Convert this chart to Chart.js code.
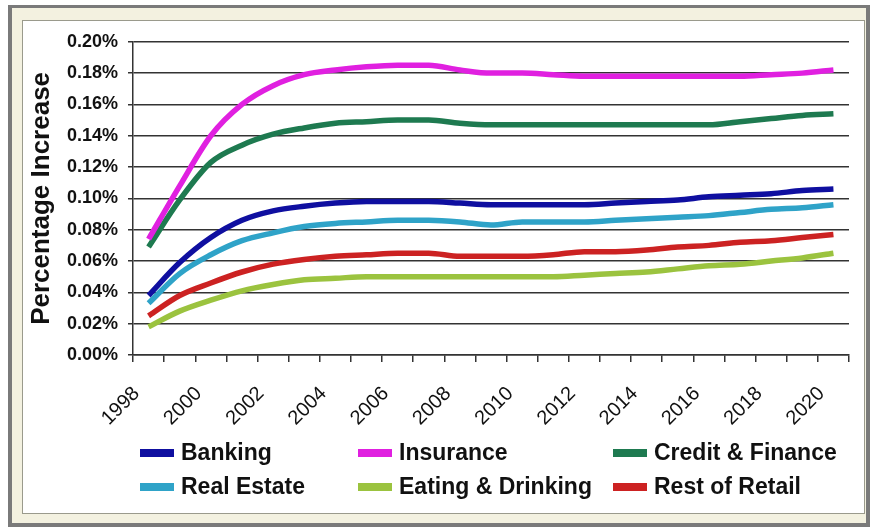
<!DOCTYPE html>
<html>
<head>
<meta charset="utf-8">
<script src="https://cdn.jsdelivr.net/npm/chart.js@4"></script>
<style>
  html, body { margin: 0; padding: 0; background: #ffffff; width: 870px; height: 527px; overflow: hidden; }
  #frame { position: absolute; left: 8px; top: 5px; width: 854px; height: 515px; border: 4px solid #7a7a7a; border-top-width: 3px; background: #f3f1e0; }
  #panel { position: absolute; left: 22px; top: 20px; width: 841px; height: 492px; border: 1px solid #9a9a8c; background: #ffffff; }
  canvas { display: block; }
</style>
</head>
<body>
<div id="frame"></div>
<div id="panel"><canvas id="c" width="841" height="492"></canvas></div>
<script>
const categories = ['1998','1999','2000','2001','2002','2003','2004','2005','2006','2007','2008','2009','2010','2011','2012','2013','2014','2015','2016','2017','2018','2019','2020'];
const xTickLabels = ['1998','','2000','','2002','','2004','','2006','','2008','','2010','','2012','','2014','','2016','','2018','','2020'];
const yTickLabels = ['0.00%','0.02%','0.04%','0.06%','0.08%','0.10%','0.12%','0.14%','0.16%','0.18%','0.20%'];
const seriesNames = ['Banking','Insurance','Credit & Finance','Real Estate','Eating & Drinking','Rest of Retail'];

const banking      = [0.038,0.059,0.075,0.086,0.092,0.095,0.097,0.098,0.098,0.098,0.097,0.096,0.096,0.096,0.096,0.097,0.098,0.099,0.101,0.102,0.103,0.105,0.106];
const insurance    = [0.074,0.108,0.140,0.160,0.172,0.179,0.182,0.184,0.185,0.185,0.182,0.180,0.180,0.179,0.178,0.178,0.178,0.178,0.178,0.178,0.179,0.180,0.182];
const creditFinance= [0.069,0.099,0.123,0.134,0.141,0.145,0.148,0.149,0.150,0.150,0.148,0.147,0.147,0.147,0.147,0.147,0.147,0.147,0.147,0.149,0.151,0.153,0.154];
const realEstate   = [0.033,0.052,0.064,0.073,0.078,0.082,0.084,0.085,0.086,0.086,0.085,0.083,0.085,0.085,0.085,0.086,0.087,0.088,0.089,0.091,0.093,0.094,0.096];
const eatingDrinking=[0.018,0.028,0.035,0.041,0.045,0.048,0.049,0.050,0.050,0.050,0.050,0.050,0.050,0.050,0.051,0.052,0.053,0.055,0.057,0.058,0.060,0.062,0.065];
const restOfRetail = [0.025,0.038,0.046,0.053,0.058,0.061,0.063,0.064,0.065,0.065,0.063,0.063,0.063,0.064,0.066,0.066,0.067,0.069,0.070,0.072,0.073,0.075,0.077];

const colors = ['#0f0fa0','#e020e0','#1e7a50','#2fa3c8','#9bc33f','#cc2222'];
const seriesData = [banking, insurance, creditFinance, realEstate, eatingDrinking, restOfRetail];

const legendPlugin = {
  id: 'gridLegend',
  afterDraw(chart) {
    const ctx = chart.ctx;
    const colX = [117, 335, 590];
    const rowY = [432, 466];
    ctx.save();
    ctx.font = 'bold 23px "Liberation Sans", Arial, sans-serif';
    ctx.textBaseline = 'middle';
    ctx.textAlign = 'left';
    seriesNames.forEach((name, i) => {
      const col = i % 3, row = Math.floor(i / 3);
      const x = colX[col], y = rowY[row];
      ctx.fillStyle = colors[i];
      ctx.fillRect(x, y - 4, 34, 8);
      ctx.fillStyle = '#111111';
      ctx.fillText(name, x + 41, y + 1);
    });
    ctx.restore();
  }
};

new Chart(document.getElementById('c'), {
  type: 'line',
  data: {
    labels: categories,
    datasets: seriesNames.map((n, i) => ({
      label: n,
      data: seriesData[i],
      borderColor: colors[i],
      backgroundColor: colors[i],
      borderWidth: 5.5,
      pointRadius: 0,
      cubicInterpolationMode: 'monotone',
      fill: false
    }))
  },
  options: {
    responsive: false,
    animation: false,
    layout: { padding: { left: 0, right: 15, top: 17, bottom: 88 } },
    plugins: { legend: { display: false }, tooltip: { enabled: false } },
    scales: {
      x: {
        type: 'category',
        offset: true,
        afterFit(scale) { scale.height = 70; scale.paddingLeft = 0; scale.paddingRight = 0; },
        grid: { display: true, drawOnChartArea: false, drawTicks: true, tickLength: 7, offset: true, color: '#333333', lineWidth: 1.5 },
        border: { display: true, color: '#333333', width: 1.5 },
        ticks: {
          autoSkip: false,
          maxRotation: 45, minRotation: 45,
          padding: 20,
          labelOffset: -12,
          color: '#111111',
          font: { family: '"Liberation Sans", Arial, sans-serif', size: 20 },
          callback: (v, i) => xTickLabels[i]
        }
      },
      y: {
        min: 0, max: 0.2,
        afterFit(scale) { scale.width = 110; },
        afterBuildTicks(scale) { scale.ticks = yTickLabels.map((t, i) => ({ value: i * 0.02 })); },
        grid: { color: '#333333', lineWidth: 1.5, tickLength: 5, drawTicks: true },
        border: { display: true, color: '#333333', width: 1.5 },
        ticks: {
          padding: 10,
          color: '#111111',
          font: { family: '"Liberation Sans", Arial, sans-serif', size: 18, weight: 'bold' },
          callback: (v, i) => yTickLabels[i]
        },
        title: {
          display: true,
          text: 'Percentage Increase',
          color: '#111111',
          padding: { top: 3, bottom: 0 },
          font: { family: '"Liberation Sans", Arial, sans-serif', size: 26, weight: 'bold' }
        }
      }
    }
  },
  plugins: [legendPlugin]
});
</script>
</body>
</html>
